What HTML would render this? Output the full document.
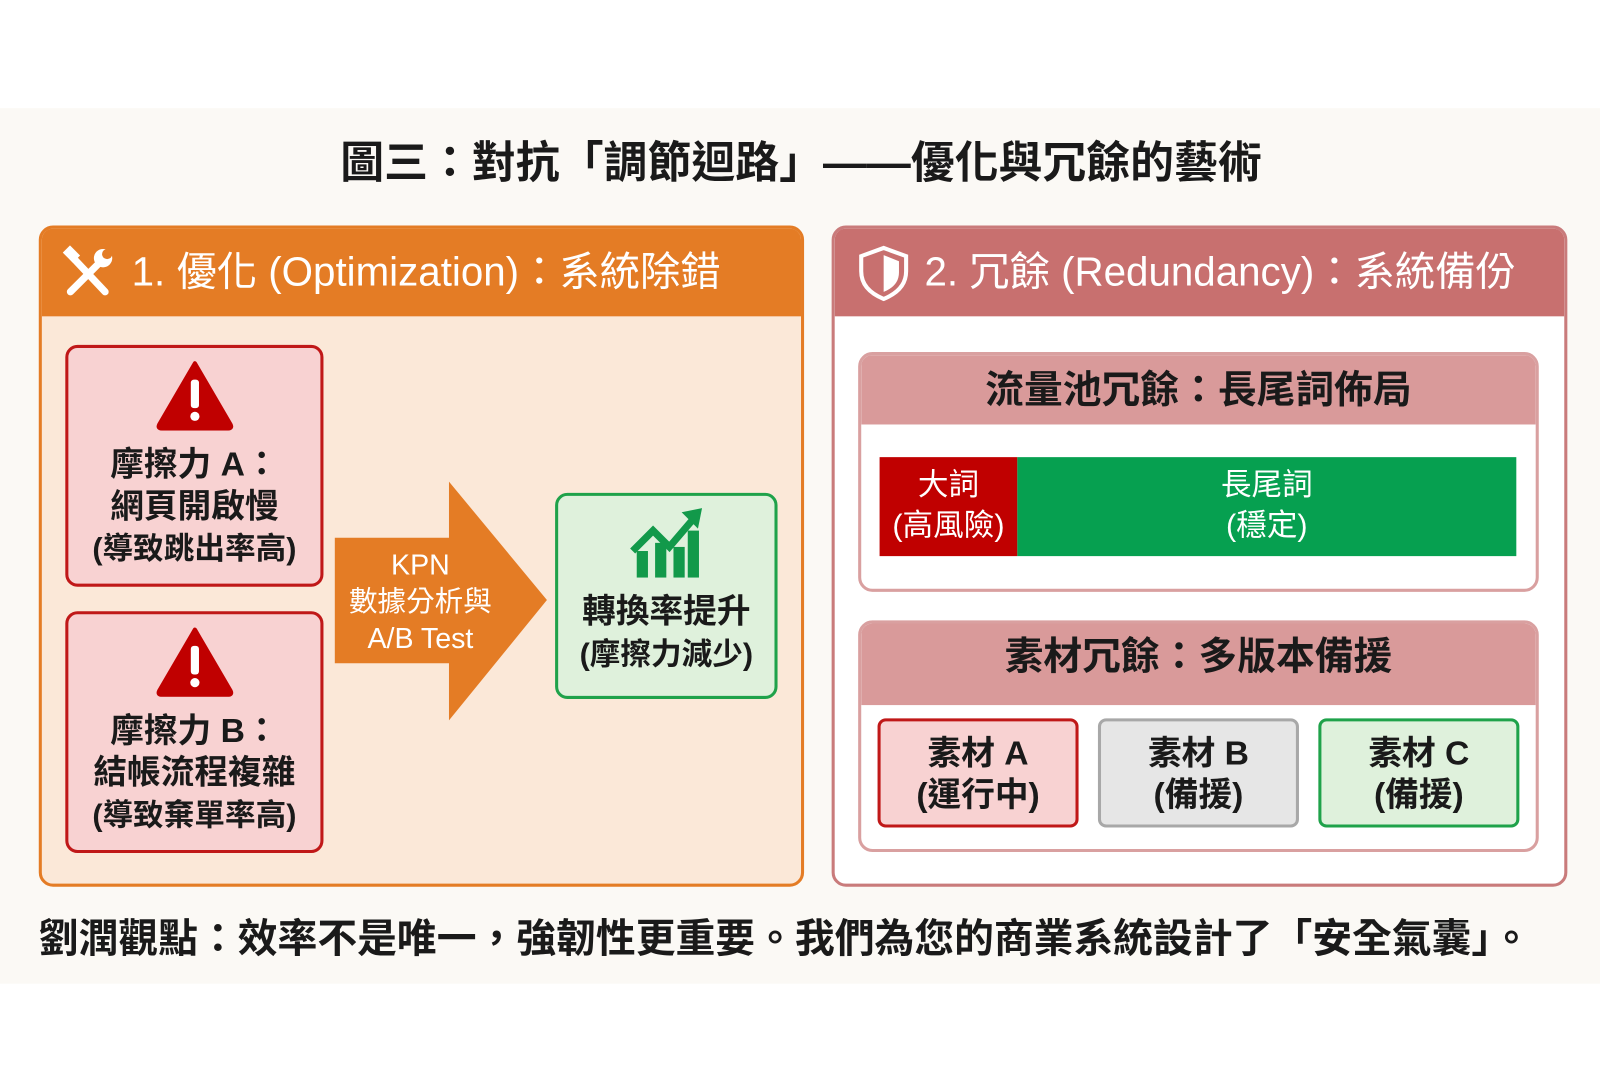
<!DOCTYPE html>
<html><head><meta charset="utf-8"><style>
*{margin:0;padding:0;box-sizing:border-box}
body{width:1600px;height:1091px;background:#fff;position:relative;overflow:hidden;font-family:"Liberation Sans","Noto Sans CJK TC",sans-serif;font-weight:bold;color:#1a1a1a}
#w{position:absolute;left:0;top:0;width:1568px;height:1070px;transform:scale(1.0204);transform-origin:0 0}
.abs{position:absolute}
.band{left:0;top:106px;width:1600px;height:858px;background:#fbf9f5}
.c{text-align:center}
.title{left:0;width:1570px;top:133px;font-size:43px;line-height:54px;white-space:nowrap}
.panel{border-radius:14px;overflow:hidden}
.hdr{position:absolute;left:0;top:0;right:0;height:86px;color:#fff;font-size:36px;line-height:86px;font-weight:bold;white-space:nowrap}
.box{border-radius:12px}
.t32{font-size:33px;line-height:41px}
</style></head><body><div id="w">
<div class="abs band"></div>
<div class="abs c title">圖三：對抗「調節迴路」——優化與冗餘的藝術</div>

<div class="abs panel" style="left:38px;top:221px;width:750px;height:648px;background:#fbe8d8;border:3px solid #e47c25">
 <div class="hdr" style="background:#e47c25;padding-left:88px;font-weight:normal;font-size:39.5px">1. 優化 (Optimization)：系統除錯</div>
 <svg class="abs" style="left:18px;top:16px" width="56" height="56" viewBox="0 0 56 56"><g stroke="#fff" stroke-width="7" stroke-linecap="round" fill="none"><line x1="10" y1="46" x2="40" y2="16"/><line x1="12" y1="12" x2="44" y2="46"/></g><circle cx="42" cy="13" r="9" fill="#fff"/><circle cx="46" cy="9" r="5" fill="#e47c25"/><rect x="4" y="4" width="14" height="10" fill="#fff" transform="rotate(45 11 9)"/></svg>
</div>
<div class="abs box" style="left:64px;top:338px;width:253px;height:237px;background:#f8d2d2;border:3px solid #c01818"></div>
<svg class="abs" style="left:152px;top:352px" width="78" height="70" viewBox="0 0 78 70"><path d="M39 4 L74 64 Q76 68 71 68 L7 68 Q2 68 4 64 Z" fill="#c00000" stroke="#c00000" stroke-width="4" stroke-linejoin="round"/><rect x="35" y="20" width="8" height="28" rx="3" fill="#fff"/><circle cx="39" cy="56" r="4.5" fill="#fff"/></svg>
<div class="abs c t32" style="left:64px;top:434px;width:253px">摩擦力 A：<br>網頁開啟慢<br><span style="font-size:30px">(導致跳出率高)</span></div>
<div class="abs box" style="left:64px;top:599px;width:253px;height:237px;background:#f8d2d2;border:3px solid #c01818"></div>
<svg class="abs" style="left:152px;top:613px" width="78" height="70" viewBox="0 0 78 70"><path d="M39 4 L74 64 Q76 68 71 68 L7 68 Q2 68 4 64 Z" fill="#c00000" stroke="#c00000" stroke-width="4" stroke-linejoin="round"/><rect x="35" y="20" width="8" height="28" rx="3" fill="#fff"/><circle cx="39" cy="56" r="4.5" fill="#fff"/></svg>
<div class="abs c t32" style="left:64px;top:695px;width:253px">摩擦力 B：<br>結帳流程複雜<br><span style="font-size:30px">(導致棄單率高)</span></div>
<svg class="abs" style="left:328px;top:470px" width="210" height="238"><path d="M0 57 L112 57 L112 2 L208 118 L112 236 L112 180 L0 180 Z" fill="#e47c25"/></svg>
<div class="abs c" style="left:322px;top:536px;width:180px;color:#fff;font-size:28px;line-height:36px;font-weight:normal">KPN<br>數據分析與<br>A/B Test</div>
<div class="abs box" style="left:544px;top:483px;width:218px;height:202px;background:#dff1dc;border:3px solid #1fa24a"></div>
<svg class="abs" style="left:616px;top:496px" width="76" height="72" viewBox="0 0 76 72"><rect x="8" y="44" width="11" height="26" fill="#12994a"/><rect x="26" y="36" width="11" height="34" fill="#12994a"/><rect x="44" y="40" width="11" height="30" fill="#12994a"/><rect x="58" y="24" width="11" height="46" fill="#12994a"/><polyline points="4,44 24,24 40,40 64,12" fill="none" stroke="#12994a" stroke-width="7"/><path d="M52 6 L72 2 L68 22 Z" fill="#12994a"/></svg>
<div class="abs c t32" style="left:544px;top:578px;width:218px">轉換率提升<br><span style="font-size:30px">(摩擦力減少)</span></div>

<div class="abs panel" style="left:815px;top:221px;width:721px;height:648px;background:#fff;border:3px solid #c97b7b">
 <div class="hdr" style="background:#c8706f;padding-left:88px;font-weight:normal;font-size:39.5px">2. 冗餘 (Redundancy)：系統備份</div>
 <svg class="abs" style="left:22px;top:16px" width="52" height="56" viewBox="0 0 52 56"><path d="M26 3 L48 11 L48 26 Q48 44 26 53 Q4 44 4 26 L4 11 Z" fill="none" stroke="#fff" stroke-width="4"/><path d="M26 10 L41 16 L41 27 Q41 40 26 46 Z" fill="#fff"/></svg>
</div>
<div class="abs panel" style="left:841px;top:345px;width:667px;height:235px;background:#fff;border:3px solid #d9a0a0">
 <div class="abs c" style="left:0;top:0;right:0;height:68px;background:#d99a9a;font-size:38px;line-height:70px">流量池冗餘：長尾詞佈局</div>
</div>
<div class="abs c" style="left:862px;top:448px;width:135px;height:97px;background:#c00000;color:#fff;font-size:30px;line-height:40px;padding-top:8px;font-weight:normal">大詞<br>(高風險)</div>
<div class="abs c" style="left:997px;top:448px;width:489px;height:97px;background:#06a050;color:#fff;font-size:30px;line-height:40px;padding-top:8px;font-weight:normal">長尾詞<br>(穩定)</div>
<div class="abs panel" style="left:841px;top:608px;width:667px;height:227px;background:#fff;border:3px solid #d9a0a0">
 <div class="abs c" style="left:0;top:0;right:0;height:80px;background:#d99a9a;font-size:38px;line-height:66px">素材冗餘：多版本備援</div>
</div>
<div class="abs box c t32" style="left:860px;top:704px;width:197px;height:107px;background:#f8d2d2;border:3px solid #c01818;padding-top:10px;border-radius:8px">素材 A<br>(運行中)</div>
<div class="abs box c t32" style="left:1076px;top:704px;width:197px;height:107px;background:#e6e6e6;border:3px solid #a8a8a8;padding-top:10px;border-radius:8px">素材 B<br>(備援)</div>
<div class="abs box c t32" style="left:1292px;top:704px;width:197px;height:107px;background:#dff1dc;border:3px solid #1fa24a;padding-top:10px;border-radius:8px">素材 C<br>(備援)</div>

<div class="abs" style="left:38px;top:896px;font-size:39px;line-height:50px;white-space:nowrap">劉潤觀點：效率不是唯一，強韌性更重要。我們為您的商業系統設計了「安全氣囊」。</div>
</div></body></html>
